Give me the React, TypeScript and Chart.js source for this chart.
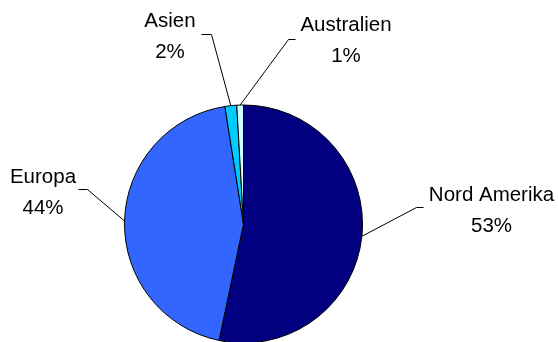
import React, { useEffect, useRef } from "react";
import { Chart, registerables } from "chart.js";

Chart.register(...registerables);

const categories = ["Nord Amerika", "Europa", "Asien", "Australien"];
const shares = [53.3, 44.2, 1.6, 0.9];
const sliceColors = ["#000080", "#3366FF", "#00CCFF", "#CCFFFF"];

// label placement: text centre x, first baseline, elbow point, leader end
const labelLayout = [
  { cx: 491.5, base: 201, elbow: [416, 207], end: [423, 207] },
  { cx: 43, base: 183, elbow: [87, 189], end: [78, 189] },
  { cx: 170, base: 27, elbow: [211, 34], end: [201, 34] },
  { cx: 346, base: 31, elbow: [288, 39], end: [295, 39] },
];

const labelPlugin = {
  id: "pieLabels",
  afterDraw(chart: any) {
    const ctx = chart.ctx;
    const meta = chart.getDatasetMeta(0);
    const data = chart.data.datasets[0].data as number[];
    const total = data.reduce((a, b) => a + b, 0);
    ctx.save();
    ctx.strokeStyle = "#000000";
    ctx.lineWidth = 1;
    ctx.fillStyle = "#000000";
    ctx.font = "20.5px 'Liberation Sans', Arial, sans-serif";
    ctx.textAlign = "center";
    ctx.textBaseline = "alphabetic";
    meta.data.forEach((arc: any, i: number) => {
      const p = arc.getProps(["x", "y", "startAngle", "endAngle", "outerRadius"], true);
      const mid = (p.startAngle + p.endAngle) / 2;
      const px = p.x + Math.cos(mid) * p.outerRadius;
      const py = p.y + Math.sin(mid) * p.outerRadius;
      const L = labelLayout[i];
      ctx.beginPath();
      ctx.moveTo(px, py);
      ctx.lineTo(L.elbow[0] + 0.5, L.elbow[1] + 0.5);
      ctx.lineTo(L.end[0] + 0.5, L.end[1] + 0.5);
      ctx.stroke();
      const pct = Math.round((data[i] / total) * 100) + "%";
      ctx.fillText(chart.data.labels[i], L.cx, L.base);
      ctx.fillText(pct, L.cx, L.base + 31);
    });
    ctx.restore();
  },
};

export default function App() {
  const ref = useRef<HTMLCanvasElement>(null);
  useEffect(() => {
    const chart = new Chart(ref.current as HTMLCanvasElement, {
      type: "pie",
      data: {
        labels: categories,
        datasets: [
          {
            data: shares,
            backgroundColor: sliceColors,
            borderColor: "#000000",
            borderWidth: 1,
          },
        ],
      },
      options: {
        responsive: false,
        animation: false,
        layout: { padding: { top: 104.5, bottom: 16.5, left: 0, right: 71 } },
        plugins: {
          legend: { display: false },
          tooltip: { enabled: false },
          title: { display: false },
        },
      },
      plugins: [labelPlugin],
    });
    return () => chart.destroy();
  }, []);
  return (
    <div
      style={{
        position: "absolute",
        left: 0,
        top: 0,
        width: 558,
        height: 342,
        overflow: "hidden",
        background: "#ffffff",
      }}
    >
      <canvas ref={ref} width={558} height={360} style={{ display: "block" }} />
    </div>
  );
}
